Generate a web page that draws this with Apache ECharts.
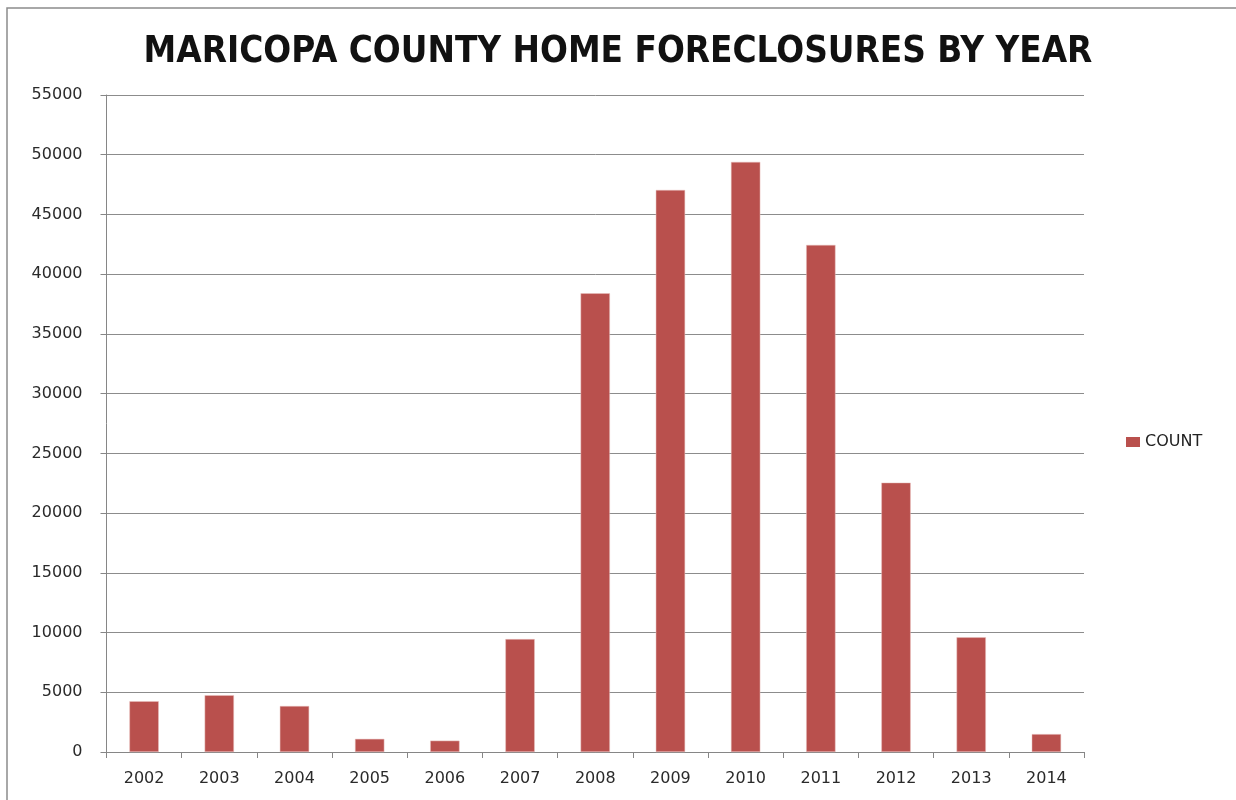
<!DOCTYPE html>
<html><head><meta charset="utf-8">
<script src="https://cdn.jsdelivr.net/npm/echarts@6/dist/echarts.min.js"></script>
<style>html,body{margin:0;padding:0;background:#fff}#c{width:1236px;height:800px}</style>
</head><body><div id="c"></div>
<script>
const years = ['2002','2003','2004','2005','2006','2007','2008','2009','2010','2011','2012','2013','2014'];
const counts = [4250, 4750, 3850, 1100, 950, 9450, 38400, 47050, 49400, 42450, 22550, 9600, 1500];
const seriesName = 'COUNT';
const titleText = 'MARICOPA COUNTY HOME FORECLOSURES BY YEAR';

const chart = echarts.init(document.getElementById('c'));
chart.setOption({
  animation: false,
  backgroundColor: '#fff',
  graphic: [{type:'rect', shape:{x:7,y:8,width:1240,height:800}, style:{fill:'none', stroke:'#8c8c8c', lineWidth:1.5}}],
  title: {text: titleText, left: 'center', top: 29,
    textStyle: {fontFamily: 'Liberation Sans Narrow, DejaVu Sans Condensed, sans-serif', fontWeight: 'bold', fontSize: 36.5, color: '#111'}},
  legend: {orient:'vertical', left: 1121, top: 429, itemWidth: 14, itemHeight: 10, itemGap: 8,
    itemStyle:{borderWidth:0},
    textStyle:{fontFamily:'DejaVu Sans, sans-serif', fontSize: 16, color:'#222'},
    data:[{name: seriesName, icon:'rect'}]},
  grid: {left: 106.5, right: 152, top: 95, bottom: 48, containLabel: false},
  xAxis: {type:'category', data: years,
    axisLine:{lineStyle:{color:'#868686', width:1}},
    axisTick:{show:true, alignWithLabel:false, length:6, lineStyle:{color:'#868686'}},
    axisLabel:{fontFamily:'DejaVu Sans, sans-serif', fontSize:16, color:'#2a2a2a', margin:19}},
  yAxis: {type:'value', min:0, max:55000, interval:5000,
    axisLine:{show:true, lineStyle:{color:'#868686', width:1}},
    axisTick:{show:true, length:6, lineStyle:{color:'#868686'}},
    splitLine:{lineStyle:{color:'#8c8c8c', width:1}},
    axisLabel:{fontFamily:'DejaVu Sans, sans-serif', fontSize:16, color:'#2a2a2a', margin:24,
      formatter: function(v){ return String(v); }}},
  series: [{name: seriesName, type:'bar', data: counts, barWidth:'39%',
    itemStyle:{color:'#B9504D', borderColor:'#e8c0bf', borderWidth:0.5}}]
});
</script></body></html>
